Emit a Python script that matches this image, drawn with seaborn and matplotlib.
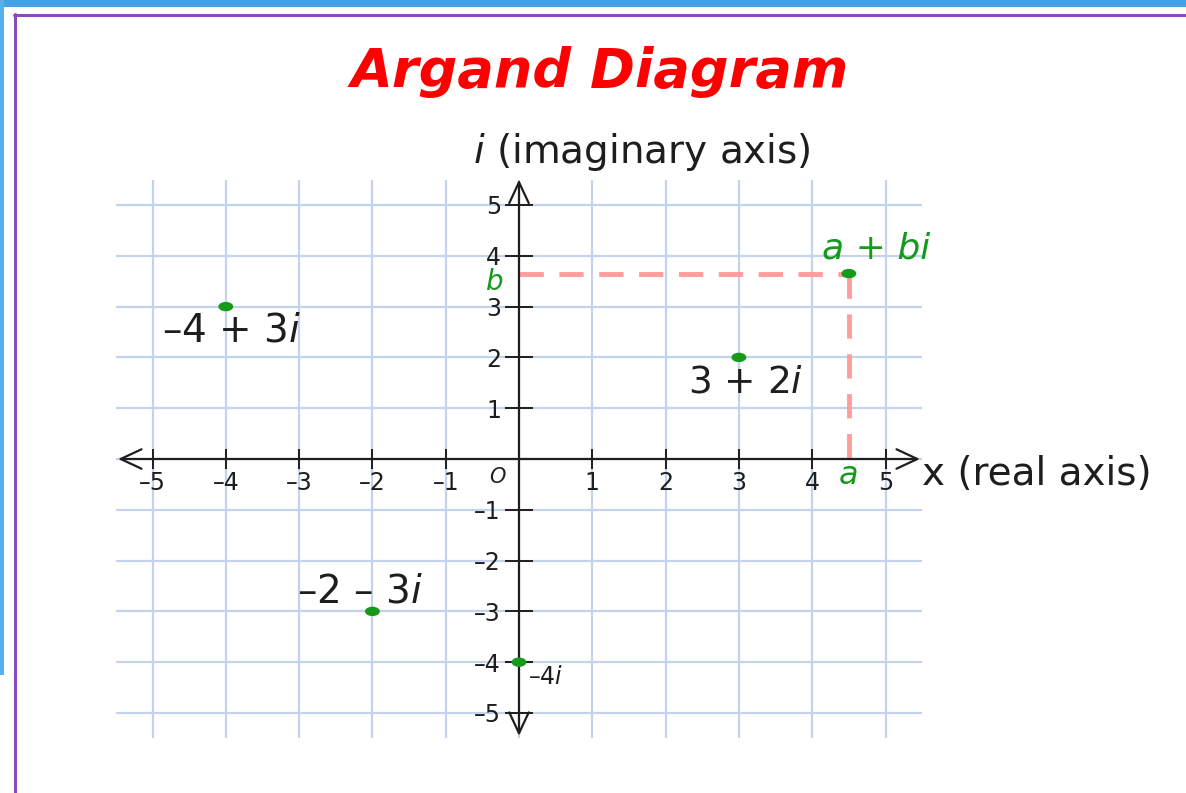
import matplotlib
matplotlib.use("Agg")
import matplotlib.pyplot as plt
from matplotlib.patches import Rectangle
from matplotlib.lines import Line2D
from matplotlib.path import Path
from matplotlib.transforms import Affine2D
import seaborn as sns
import pandas as pd

# Complex numbers plotted on the plane
real_parts = [-4, 3, -2, 0, 4.5]
imag_parts = [3, 2, -3, -4, 3.65]
point_labels = ["–4 + 3$i$", "3 + 2$i$", "–2 – 3$i$", "–4$i$", "a + bi"]

tick_values = [-5, -4, -3, -2, -1, 1, 2, 3, 4, 5]
tick_labels = ["–5", "–4", "–3", "–2", "–1", "1", "2", "3", "4", "5"]

title_text = "Argand Diagram"
x_axis_label = "x (real axis)"
y_axis_label = "$i$ (imaginary axis)"

GREEN = "#159a1c"
GRID = "#c3d3ee"
PINK = "#ff9c9c"
INK = "#1e1e1e"

sns.set_theme(style="white")
plt.rcParams["font.family"] = ["DejaVu Sans"]
plt.rcParams["mathtext.fontset"] = "dejavusans"

W, H = 1186, 793
fig = plt.figure(figsize=(W / 100, H / 100), dpi=100, facecolor="white")

# page frame: blue band and purple rule
fig.patches.append(Rectangle((0, 1 - 7 / H), 1, 7 / H, transform=fig.transFigure,
                             facecolor="#42a3e6", edgecolor="none", zorder=0))
fig.patches.append(Rectangle((0, 1 - 675 / H), 4 / W, 675 / H, transform=fig.transFigure,
                             facecolor="#55b0ee", edgecolor="none", zorder=0))
fig.lines.append(Line2D([14 / W, 1], [1 - 14.5 / H, 1 - 14.5 / H], transform=fig.transFigure,
                        color="#8a4cbd", lw=2.2))
fig.lines.append(Line2D([14.5 / W, 14.5 / W], [0, 1 - 14 / H], transform=fig.transFigure,
                        color="#8a4cbd", lw=2.2))

# axes placed so that one unit is ~73 px across and ~51 px tall
x0, y0, sx, sy = 519, 459, 73.3, 50.8
left_px, right_px, top_px, bot_px = 100, 940, 170, 750
ax = fig.add_axes([left_px / W, 1 - bot_px / H, (right_px - left_px) / W, (bot_px - top_px) / H])
ax.set_facecolor("none")
ax.set_axisbelow(False)
ax.set_xlim((left_px - x0) / sx, (right_px - x0) / sx)
ax.set_ylim((y0 - bot_px) / sy, (y0 - top_px) / sy)

# grid limited to the square [-5.5, 5.5]
lim = 5.5
grid_pos = list(range(-5, 6))
ax.vlines(grid_pos, -lim, lim, color=GRID, lw=1.6, zorder=0.2)
ax.hlines(grid_pos, -lim, lim, color=GRID, lw=1.6, zorder=0.2)

# axes through the origin with open arrowheads
arrow = dict(arrowstyle="<->,head_length=15,head_width=7", mutation_scale=1,
             lw=1.6, color=INK, shrinkA=0, shrinkB=0)
ax.annotate("", xy=(lim - 0.03, 0), xytext=(-lim + 0.03, 0), arrowprops=arrow, zorder=3)
ax.annotate("", xy=(0, lim), xytext=(0, -lim + 0.05), arrowprops=arrow, zorder=3)

for side in ["top", "right"]:
    ax.spines[side].set_visible(False)
ax.spines["left"].set_position(("data", 0))
ax.spines["bottom"].set_position(("data", 0))
ax.spines["left"].set_linewidth(0)
ax.spines["bottom"].set_linewidth(0)

ax.set_xticks(tick_values, tick_labels)
ax.set_yticks(tick_values, tick_labels)
ax.tick_params(axis="x", direction="inout", length=14, width=1.4, color=INK,
               pad=1.5, labelsize=17, labelcolor=INK, bottom=True)
ax.tick_params(axis="y", direction="inout", length=20, width=1.4, color=INK,
               pad=3, labelsize=17, labelcolor=INK, left=True)

# projection lines for the general point a + bi
a_val, b_val = real_parts[-1], imag_parts[-1]
ax.plot([0, a_val], [b_val, b_val], color=PINK, lw=3.5, ls=(0, (5, 3.2)), zorder=2)
ax.plot([a_val, a_val], [b_val, 0], color=PINK, lw=3.5, ls=(0, (5, 3.2)), zorder=2)

# slightly flattened dot marker
dot = Path.unit_circle().transformed(Affine2D().scale(1.0, 0.63))

df = pd.DataFrame({"re": real_parts, "im": imag_parts, "label": point_labels})
sns.scatterplot(data=df, x="re", y="im", color=GREEN, s=115, marker=dot,
                edgecolor="none", ax=ax, zorder=5, clip_on=False)
ax.set_xlabel("")
ax.set_ylabel("")

# point labels
offsets = [(-46, -17), (-37, -18), (-54, 14), (6.5, -11), (-19, 18)]
sizes = [28, 27, 28, 17, 26]
for (re, im, lab), (dx, dy), fs in zip(zip(real_parts, imag_parts, point_labels), offsets, sizes):
    general = lab == "a + bi"
    ax.annotate(lab, (re, im), xytext=(dx, dy), textcoords="offset points",
                ha="left", va="center", fontsize=fs,
                color=GREEN if general else INK,
                fontstyle="italic" if general else "normal", zorder=6)

ax.text(-0.33, b_val - 0.17, "b", color=GREEN, fontsize=20, fontstyle="italic",
        ha="center", va="center")
ax.text(a_val, -0.33, "a", color=GREEN, fontsize=23, fontstyle="italic",
        ha="center", va="center")
ax.text(-0.3, -0.36, "O", color=INK, fontsize=15, fontstyle="italic",
        ha="center", va="center")

ax.text(-0.63, 6.05, y_axis_label, fontsize=28, color=INK, ha="left", va="center",
        clip_on=False)
ax.text(5.5, -0.3, x_axis_label, fontsize=28, color=INK, ha="left", va="center",
        clip_on=False)

fig.text(600 / W, 1 - 72 / H, title_text, color="#ff0000", fontsize=39,
         fontweight="bold", fontstyle="italic", ha="center", va="center")

fig.savefig("out.png", dpi=100)
